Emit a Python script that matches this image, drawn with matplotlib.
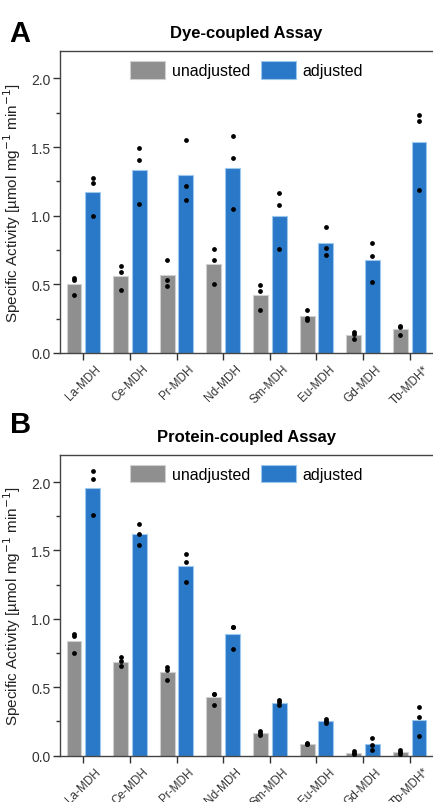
import matplotlib
matplotlib.use("Agg")
import matplotlib.pyplot as plt
import numpy as np
from matplotlib.ticker import MultipleLocator, FormatStrFormatter

plt.rcParams['font.family'] = ['Liberation Sans', 'DejaVu Sans']

categories = ["La-MDH", "Ce-MDH", "Pr-MDH", "Nd-MDH", "Sm-MDH", "Eu-MDH", "Gd-MDH", "Tb-MDH*"]

# Panel A: Dye-coupled assay
dye_unadj = [0.50, 0.56, 0.57, 0.645, 0.42, 0.27, 0.13, 0.172]
dye_adj = [1.17, 1.33, 1.295, 1.35, 1.0, 0.80, 0.675, 1.535]
dye_unadj_pts = [[0.545, 0.535, 0.425], [0.632, 0.593, 0.459], [0.681, 0.530, 0.489],
                 [0.757, 0.679, 0.500], [0.493, 0.452, 0.315], [0.313, 0.254, 0.240],
                 [0.156, 0.139, 0.100], [0.193, 0.190, 0.130]]
dye_adj_pts = [[1.275, 1.238, 0.996], [1.494, 1.404, 1.089], [1.555, 1.214, 1.116],
               [1.582, 1.419, 1.048], [1.165, 1.075, 0.755], [0.921, 0.764, 0.713],
               [0.800, 0.703, 0.520], [1.731, 1.690, 1.187]]

# Panel B: Protein-coupled assay
prot_unadj = [0.838, 0.688, 0.609, 0.426, 0.165, 0.087, 0.021, 0.027]
prot_adj = [1.953, 1.618, 1.388, 0.889, 0.388, 0.251, 0.083, 0.262]
prot_unadj_pts = [[0.893, 0.876, 0.752], [0.720, 0.691, 0.655], [0.647, 0.628, 0.553],
                  [0.453, 0.450, 0.372], [0.178, 0.165, 0.153], [0.090, 0.087, 0.083],
                  [0.034, 0.020, 0.010], [0.041, 0.027, 0.012]]
prot_adj_pts = [[2.083, 2.022, 1.759], [1.693, 1.618, 1.543], [1.475, 1.419, 1.270],
                [0.944, 0.942, 0.779], [0.407, 0.390, 0.372], [0.266, 0.251, 0.236],
                [0.127, 0.080, 0.042], [0.356, 0.285, 0.144]]

GRAY = "#8f8f8f"
BLUE = "#2a78c8"
GRAY_EDGE = "#d0d0d0"
BLUE_EDGE = "#9cc8ee"

fig = plt.figure(figsize=(4.33, 8.03), dpi=100)

def panel(rect, unadj, adj, unadj_pts, adj_pts, title, letter, letter_y):
    ax = fig.add_axes(rect)
    x = np.arange(len(categories))
    w = 0.32
    off = 0.2
    ax.bar(x - off, unadj, w, color=GRAY, edgecolor=GRAY_EDGE, linewidth=0.8, label="unadjusted", zorder=2)
    ax.bar(x + off, adj, w, color=BLUE, edgecolor=BLUE_EDGE, linewidth=0.8, label="adjusted", zorder=2)
    for i in range(len(categories)):
        ax.scatter([x[i] - off] * len(unadj_pts[i]), unadj_pts[i], s=12, color="black", zorder=3, linewidths=0)
        ax.scatter([x[i] + off] * len(adj_pts[i]), adj_pts[i], s=12, color="black", zorder=3, linewidths=0)
    ax.set_xlim(-0.5, 7.5)
    ax.set_ylim(0, 2.2)
    ax.yaxis.set_major_locator(MultipleLocator(0.5))
    ax.yaxis.set_minor_locator(MultipleLocator(0.25))
    ax.yaxis.set_major_formatter(FormatStrFormatter("%.1f"))
    ax.set_xticks(x)
    ax.set_xticklabels(categories, rotation=45, ha="center", fontsize=8.5)
    ax.tick_params(axis="y", which="major", length=5, width=1, labelsize=10, colors="#333333", labelcolor="#333333", pad=2)
    ax.tick_params(axis="y", which="minor", length=3, width=1, colors="#333333")
    ax.tick_params(axis="x", length=5, width=1, colors="#333333", labelcolor="#333333", pad=2)
    for s in ["left", "top", "bottom"]:
        ax.spines[s].set_color("#444444")
        ax.spines[s].set_linewidth(1.0)
    ax.spines["right"].set_visible(False)
    ax.set_ylabel("Specific Activity [µmol mg$^{-1}$ min$^{-1}$]", fontsize=11, color="#222222")
    ax.yaxis.set_label_coords(-0.098, 0.5)
    ax.set_title(title, fontsize=12, fontweight="bold", pad=10)
    ax.legend(loc="upper center", ncol=2, frameon=False, fontsize=11.5,
              handlelength=2.2, handleheight=1.3, columnspacing=0.7, handletextpad=0.4,
              borderaxespad=0.25)
    fig.text(0.022, letter_y, letter, fontsize=21, fontweight="bold", va="top", ha="left")
    return ax

panel([0.1386, 0.5592, 0.8614, 0.376], dye_unadj, dye_adj, dye_unadj_pts, dye_adj_pts,
      "Dye-coupled Assay", "A", 0.975)
panel([0.1386, 0.0577, 0.8614, 0.3748], prot_unadj, prot_adj, prot_unadj_pts, prot_adj_pts,
      "Protein-coupled Assay", "B", 0.488)

fig.savefig("out.png", dpi=100)
